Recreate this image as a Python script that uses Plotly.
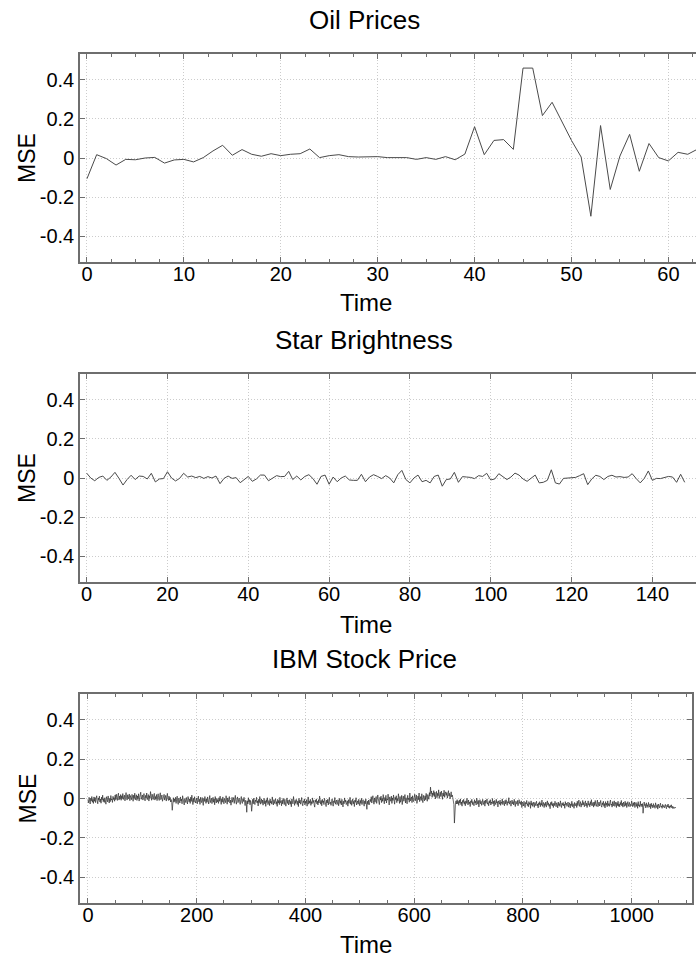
import plotly.graph_objects as go

# ---- data -----------------------------------------------------------------
oil_mse = [-0.106, 0.017, -0.003, -0.036, -0.007, -0.009, 0.000, 0.003, -0.026, -0.010,
           -0.007, -0.020, 0.002, 0.036, 0.065, 0.014, 0.043, 0.019, 0.009, 0.022,
           0.012, 0.019, 0.022, 0.046, 0.002, 0.012, 0.017, 0.007, 0.005, 0.005,
           0.007, 0.002, 0.002, 0.002, -0.007, 0.002, -0.007, 0.007, -0.009, 0.020,
           0.160, 0.017, 0.090, 0.094, 0.044, 0.460, 0.460, 0.217, 0.285, 0.190,
           0.090, 0.005, -0.298, 0.166, -0.161, 0.010, 0.121, -0.068, 0.074, 0.002,
           -0.015, 0.029, 0.019, 0.045, 0.030]

# star brightness, in thousandths
star_mse_k = [25, 0, -14, 3, 10, -12, 5, 29, -2, -36,
              -8, 14, -8, 10, 8, -5, 24, -20, -5, -3,
              32, 0, -15, -2, 24, 5, 10, 2, 8, -2,
              7, 0, 10, -29, -2, 10, -2, 2, -24, -8,
              8, -17, -5, 15, 15, -14, -2, 12, 7, 8,
              34, -8, 10, -10, 8, 17, -3, -32, 8, 15,
              -32, 5, -19, 0, 10, -10, -12, -12, 19, -19,
              5, 17, 8, -3, 12, 0, -25, 17, 39, -8,
              -25, 0, 15, -19, -12, -25, 8, 15, -42, -8,
              -5, 29, -22, 7, 5, 3, -3, 12, 8, 24,
              -10, -5, 22, 5, -8, 5, 25, 15, -5, -17,
              -2, 15, -25, -22, -12, 42, -25, -31, -2, 0,
              0, 3, 12, 22, -34, -5, 14, 8, -8, 8,
              14, 5, 7, 3, 5, 22, -3, -25, -2, 36,
              -12, -2, -3, 3, 8, 5, -22, 19, -22]

# IBM stock price, in thousandths
ibm_mse_k = [
    -8, -22, 6, -15, -28, 2, -12, 10, -19, -4, -25, 8, -14, 5, -21, -2, 14, -11, -27, 3,
    -9, 12, -18, -3, -24, 7, -7, 17, -16, -1, -20, 4, -13, -29, 9, -6, -17, 13, -10, -23,
    1, -16, 15, -8, -2, -20, 11, -5, 4, -14, 18, -6, 22, 3, -10, 16, 27, -8, 12, -3,
    20, -9, 14, 0, 25, -5, 9, 17, -12, 7, 30, 3, -8, 19, -2, 11, 23, -11, 15, 5,
    -6, 21, 8, -14, 17, 1, 27, -7, 6, 19, -10, 13, -1, 24, -13, 4, 15, 32, -4, 9,
    18, -8, 11, 25, -1, -12, 16, 3, 28, -6, 7, 20, -13, 14, 1, 35, 9, -9, 22, 4,
    -5, 17, 26, -8, 10, -2, 20, -11, 12, 24, 3, -10, 15, 29, -6, 8, 18, -14, 7, 0,
    21, -8, 11, 16, -13, 5, 26, -1, -10, 12, -8, 6, -18, -5, -20, -60, -14, 4, -19, -2,
    -16, 6, -25, -4, 12, -19, -30, 2, -9, -23, 8, -13, -3, -27, 14, -7, -18, -33, 0, -11,
    -21, 5, -13, -28, 10, -6, -17, -2, -25, 7, -15, 17, -9, -31, 1, -19, 9, -4, -23, -12,
    3, -27, -8, 12, -17, -4, -30, 6, -13, -21, 5, -10, -35, 0, -15, 10, -6, -25, -2, -19,
    8, -12, -28, -4, 15, -21, -8, 2, -26, -15, 6, -19, -2, -32, 10, -10, -23, 1, -17, -6,
    -25, 4, -14, 12, -9, -30, -2, -19, 8, -13, -27, 0, -7, -21, 14, -11, -29, 3, -17, -4,
    10, -23, -8, -34, -2, 6, -19, -12, 5, -25, -6, 16, -15, -29, -4, 8, -21, -10, 2, -17,
    -30, -6, 10, -19, -25, -2, -15, 6, -23, -36, -9, -17, -70, -12, -28, 4, -19, -6, -32, -10,
    -21, -65, -14, -4, -27, 2, -18, -31, -8, -16, 6, -23, -12, -38, -4, -21, 10, -29, -15, -2,
    -25, -8, -34, -16, 1, -27, -12, -40, -6, -21, 4, -31, -18, -10, -36, -2, -23, -14, -29, 8,
    -18, -33, -6, -25, -12, -1, -29, -16, -40, -4, -23, -10, -31, 6, -21, -14, -37, -8, -27, 1,
    -16, -31, -4, -23, -39, -12, 3, -25, -8, -33, -19, -6, -29, -14, -42, -2, -21, -27, 10, -16,
    -35, -10, -25, -4, -19, -31, -12, -41, 1, -23, -8, -29, -16, 5, -27, -37, -12, -21, -2, -33,
    -14, -25, -6, -39, -19, 8, -29, -12, -23, -4, -35, -16, -27, 3, -21, -10, -31, -44, -8, -19,
    -2, -27, -14, -33, -6, -23, 12, -19, -29, -10, -37, -4, -21, -12, -31, 1, -25, -16, -41, -8,
    -23, -4, -33, -14, 6, -27, -19, -35, -10, -2, -25, -39, -12, -21, 5, -29, -16, -8, -31, -23,
    -6, -37, -19, 1, -25, -12, -33, -4, -21, -43, -14, -27, 3, -19, -8, -31, -23, -12, -39, -6,
    -25, -16, 6, -29, -10, -35, -21, -2, -27, -14, -41, -8, -19, 4, -33, -23, -12, -29, -4, -21,
    -37, -10, -25, 1, -31, -16, -6, -23, -39, -12, -27, -2, -19, -55, -14, -29, -8, -33, -21, -4,
    -16, 9, -23, -6, 14, -12, -29, 3, -19, -4, 10, -25, -10, 18, -2, -16, -31, 6, -8, 12,
    -21, 1, -14, 20, -6, -27, 5, -12, 16, -23, -2, -8, 22, -19, -33, 8, -4, -14, 12, -25,
    3, -10, 18, -16, -29, 6, -6, 14, -21, 0, -12, 24, -4, -25, 10, -19, -8, 16, -31, -2,
    12, -14, -4, 20, -23, 4, -10, -27, 16, -6, 2, -19, 28, -12, -2, 8, -21, 14, -8, -16,
    6, 22, -12, -2, 18, -25, 4, 12, -6, 28, -16, 0, 10, -10, 24, -4, -21, 16, 2, -12,
    14, -6, 26, 0, -14, 20, 8, -4, 30, 12, 58, 24, 38, 6, 28, 16, 40, 10, 32, -2,
    20, 36, 4, 26, 14, 44, 0, 22, 32, 10, 38, 18, -4, 28, 12, 42, 6, 24, 34, 16,
    30, 2, 20, 40, 12, 26, -2, 22, 34, 8, 18, 4, -10, -30, -125, -40, -22, -12, -28, -6,
    -27, -14, -35, -8, -23, -2, -31, -18, -39, -10, -21, -4, -29, -16, -37, -12, -25, 1, -19, -33,
    -8, -27, -18, -41, -12, -21, -4, -31, -16, -25, -37, -6, -23, -14, -33, 2, -19, -29, -10, -43,
    -18, -6, -27, -14, -35, -21, -4, -31, -19, -12, -39, -8, -25, -16, -2, -29, -21, -37, -12, -23,
    -6, -33, -18, -25, 0, -27, -14, -39, -10, -21, -31, -4, -23, -16, -43, -12, -19, -29, -8, -35,
    -18, -25, -2, -31, -14, -21, -37, -10, -27, -6, -19, -35, -16, -23, 4, -29, -18, -12, -39, -21,
    -8, -27, -16, -33, -4, -23, -41, -14, -19, -29, -10, -37, -21, -6, -25, -18, -31, -12, -46, -19,
    -25, -38, -14, -32, -46, -20, -28, -10, -36, -26, -42, -16, -30, -22, -50, -12, -34, -24, -40, -18,
    -30, -45, -20, -36, -26, -14, -38, -28, -48, -22, -32, -16, -42, -24, -34, -8, -40, -30, -20, -46,
    -26, -36, -18, -44, -28, -12, -34, -22, -40, -30, -52, -20, -32, -16, -38, -26, -46, -24, -36, -14,
    -32, -42, -22, -28, -48, -18, -36, -26, -40, -12, -30, -46, -24, -34, -20, -38, -28, -50, -16, -32,
    -24, -40, -30, -18, -44, -34, -22, -48, -28, -36, -14, -42, -26, -32, -50, -20, -38, -30, -24, -46,
    -14, -36, -22, -8, -40, -28, -16, -44, -26, -34, -10, -32, -20, -42, -30, -12, -38, -24, -46, -18,
    -12, -34, -26, -42, -16, -32, -6, -38, -28, -20, -44, -18, -36, -10, -30, -40, -24, -8, -42, -32,
    -18, -38, -28, -10, -36, -44, -22, -32, -14, -40, -26, -48, -16, -34, -24, -42, -12, -36, -26, -40,
    -20, -8, -34, -28, -44, -16, -38, -26, -12, -40, -30, -18, -46, -22, -36, -14, -40, -28, -42, -20,
    -32, -10, -38, -24, -44, -18, -30, -40, -14, -36, -22, -46, -28, -16, -40, -32, -20, -42, -30, -36,
    -12, -28, -42, -22, -36, -18, -46, -30, -20, -40, -26, -50, -16, -38, -32, -44, -14, -36, -28, -42,
    -26, -75, -40, -18, -36, -30, -48, -22, -40, -32, -46, -20, -38, -44, -28, -52, -24, -40, -34, -48,
    -26, -42, -36, -50, -22, -38, -46, -32, -54, -28, -40, -48, -34, -24, -44, -38, -50, -30, -42, -36,
    -48, -38, -30, -44, -52, -34, -42, -28, -46, -38, -50, -36, -44, -32, -48, -40, -52, -42, -46, -50,
    -44, -48,
]

titles = ["Oil Prices", "Star Brightness", "IBM Stock Price"]
y_ticks = [-0.4, -0.2, 0, 0.2, 0.4]
y_tick_text = ["-0.4", "-0.2", "0", "0.2", "0.4"]

series = [
    oil_mse,
    [v / 1000 for v in star_mse_k],
    [v / 1000 for v in ibm_mse_k],
]
line_colors = ["#4a4a4a", "#4a4a4a", "#2c2c2c"]
line_widths = [1, 1, 0.7]

# ---- layout geometry (pixels in a 696 x 959 page) ---------------------------
W, H = 696, 959
FONT = "Liberation Sans, Arial, sans-serif"
LINE_GREY = "#6e6e6e"
GRID_GREY = "#cccccc"

panels = [
    dict(l=80, r=696, t=54, b=262, xr=[-0.72, 62.85], dt=10, mdt=2.5, ymir=False,
         title_y=20, time_y=303),
    dict(l=80, r=696, t=374, b=582, xr=[-1.65, 150.8], dt=20, mdt=None, ymir=False,
         title_y=340, time_y=624),
    dict(l=80, r=692, t=694, b=903, xr=[-14.7, 1111], dt=200, mdt=50, ymir=True,
         title_y=659, time_y=944),
]

fig = go.Figure()
layout = dict(
    width=W, height=H,
    margin=dict(l=0, r=0, t=0, b=0),
    paper_bgcolor="white", plot_bgcolor="white",
    showlegend=False,
    font=dict(family=FONT, size=20, color="black"),
)

annotations = []
for k, (p, ys, ttl, lc, lw) in enumerate(
        zip(panels, series, titles, line_colors, line_widths), start=1):
    sx = "" if k == 1 else str(k)
    xs = list(range(len(ys)))
    fig.add_trace(go.Scatter(
        x=xs, y=ys, mode="lines",
        line=dict(color=lc, width=lw),
        xaxis="x" + sx, yaxis="y" + sx, hoverinfo="skip",
    ))
    xa = dict(
        domain=[p["l"] / W, p["r"] / W],
        range=p["xr"], anchor="y" + sx,
        tick0=0, dtick=p["dt"],
        ticks="inside", ticklen=5, tickcolor=LINE_GREY, tickwidth=1,
        ticklabelstandoff=-7,
        showline=True, linecolor=LINE_GREY, linewidth=1.5, mirror="ticks",
        showgrid=True, gridcolor=GRID_GREY, griddash="1px,2px", gridwidth=1,
        zeroline=False,
        tickfont=dict(family=FONT, size=20, color="black"),
    )
    if p["mdt"]:
        xa["minor"] = dict(dtick=p["mdt"], tick0=0, ticks="inside", ticklen=3,
                           tickcolor=LINE_GREY, showgrid=False)
    ya = dict(
        domain=[1 - p["b"] / H, 1 - p["t"] / H],
        range=[-0.532, 0.532], anchor="x" + sx,
        tickvals=y_ticks, ticktext=y_tick_text,
        ticks="inside", ticklen=5, tickcolor=LINE_GREY, tickwidth=1,
        showline=True, linecolor=LINE_GREY, linewidth=1.5,
        mirror="ticks" if p["ymir"] else False,
        showgrid=True, gridcolor=GRID_GREY, griddash="1px,2px", gridwidth=1,
        zeroline=False,
        tickfont=dict(family=FONT, size=20, color="black"),
    )
    layout["xaxis" + sx] = xa
    layout["yaxis" + sx] = ya

    annotations.append(dict(text=ttl, x=364 / W, y=1 - p["title_y"] / H,
                            xref="paper", yref="paper", showarrow=False,
                            xanchor="center", yanchor="middle",
                            font=dict(family=FONT, size=26, color="black")))
    annotations.append(dict(text="Time", x=366 / W, y=1 - p["time_y"] / H,
                            xref="paper", yref="paper", showarrow=False,
                            xanchor="center", yanchor="middle",
                            font=dict(family=FONT, size=24, color="black")))
    annotations.append(dict(text="MSE", x=27 / W, y=1 - (p["t"] + p["b"]) / 2 / H,
                            xref="paper", yref="paper", showarrow=False,
                            textangle=-90, xanchor="center", yanchor="middle",
                            font=dict(family=FONT, size=23, color="black")))

layout["annotations"] = annotations
fig.update_layout(**layout)
fig.write_html("out.html")
